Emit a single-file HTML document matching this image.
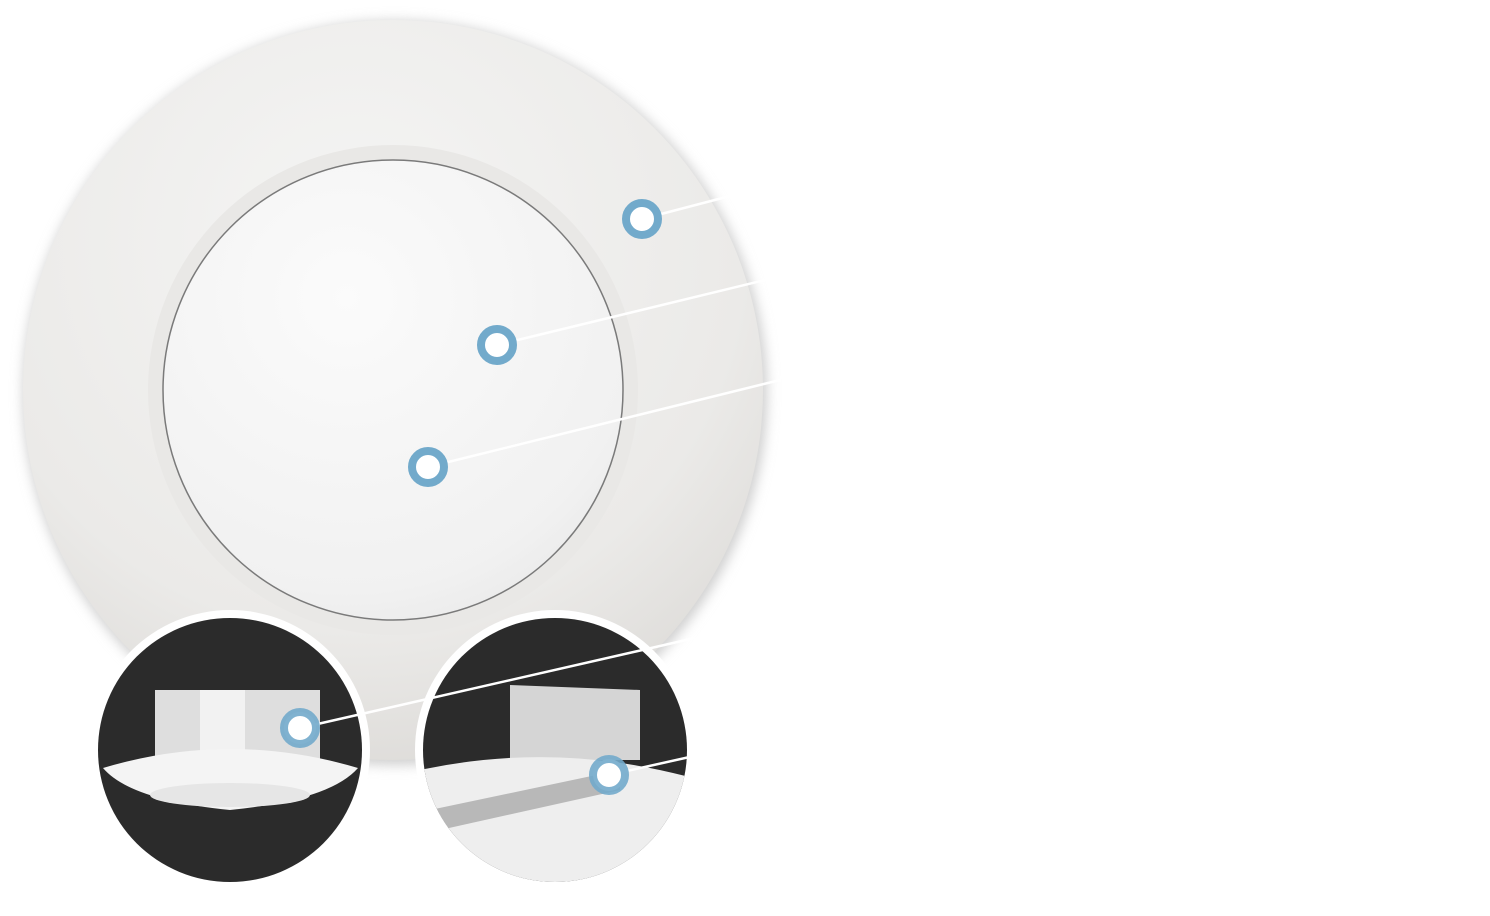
<!DOCTYPE html>
<html><head><meta charset="utf-8"><style>
html,body{margin:0;padding:0;background:#fff;width:1490px;height:916px;overflow:hidden}
</style></head><body>
<svg width="1490" height="916" viewBox="0 0 1490 916" xmlns="http://www.w3.org/2000/svg">
<defs>
<radialGradient id="outer" cx="0.45" cy="0.3" r="0.75">
<stop offset="0" stop-color="#f5f5f4"/><stop offset="0.7" stop-color="#ebeae8"/><stop offset="1" stop-color="#dcdad7"/>
</radialGradient>
<radialGradient id="inner" cx="0.4" cy="0.3" r="0.8">
<stop offset="0" stop-color="#fbfbfb"/><stop offset="0.8" stop-color="#f1f1f1"/><stop offset="1" stop-color="#e8e8e8"/>
</radialGradient>
<filter id="sh" x="-20%" y="-20%" width="140%" height="140%"><feGaussianBlur stdDeviation="6"/></filter>
<clipPath id="c1"><circle cx="230" cy="750" r="132"/></clipPath>
<clipPath id="c2"><circle cx="555" cy="750" r="132"/></clipPath>
</defs>
<circle cx="395" cy="393" r="372" fill="#cfcfcf" filter="url(#sh)"/>
<circle cx="393" cy="390" r="370" fill="url(#outer)"/>
<circle cx="393" cy="390" r="245" fill="#e9e8e6"/>
<circle cx="393" cy="390" r="230" fill="url(#inner)" stroke="#7a7a7a" stroke-width="1.5"/>
<circle cx="230" cy="750" r="140" fill="#fff"/>
<g clip-path="url(#c1)">
<rect x="80" y="600" width="300" height="300" fill="#2b2b2b"/>
<rect x="155" y="690" width="165" height="70" fill="#dedede"/>
<rect x="200" y="690" width="45" height="70" fill="#f2f2f2"/>
<path d="M103 768 Q230 730 358 768 Q330 800 230 810 Q130 800 103 768Z" fill="#f4f4f4"/>
<ellipse cx="230" cy="795" rx="80" ry="12" fill="#e6e6e6"/>
</g>
<circle cx="555" cy="750" r="140" fill="#fff"/>
<g clip-path="url(#c2)">
<rect x="400" y="600" width="310" height="300" fill="#2b2b2b"/>
<path d="M510 685 L640 690 L640 760 L510 760Z" fill="#d5d5d5"/>
<path d="M420 770 Q560 740 700 780 L700 900 L420 900Z" fill="#eeeeee"/>
<path d="M430 810 L620 770 L620 790 L440 830Z" fill="#b8b8b8"/>
</g>
<g stroke="#fff" stroke-width="2.5" fill="none">
<line x1="642" y1="219" x2="730" y2="196"/>
<line x1="497" y1="345" x2="765" y2="280"/>
<line x1="428" y1="467" x2="780" y2="380"/>
<line x1="300" y1="728" x2="695" y2="638"/>
<line x1="609" y1="775" x2="712" y2="752"/>
</g>
<g fill="#fff" stroke="#72aacb" stroke-width="8">
<circle cx="642" cy="219" r="16"/>
<circle cx="497" cy="345" r="16"/>
<circle cx="428" cy="467" r="16"/>
<circle cx="300" cy="728" r="16" stroke-opacity="0.9"/>
<circle cx="609" cy="775" r="16" stroke-opacity="0.9"/>
</g>
</svg>
</body></html>
